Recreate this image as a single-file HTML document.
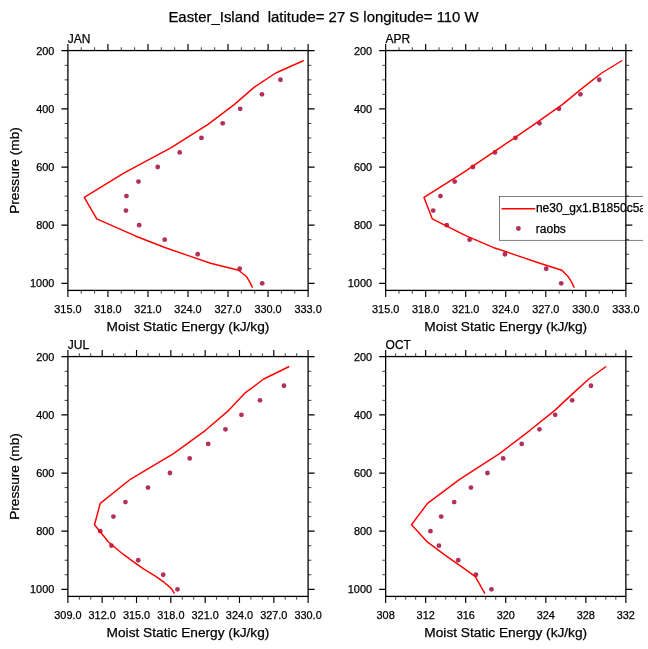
<!DOCTYPE html>
<html lang="en"><head><meta charset="utf-8"><title>Easter_Island Moist Static Energy</title>
<style>html,body{margin:0;padding:0;background:#fff;overflow:hidden}svg{display:block;will-change:transform}text{font-family:'Liberation Sans', sans-serif;fill:#000;stroke:#000;stroke-width:0.25px}.tk{font-size:10.9px}.ax{font-size:13.7px}.pl{font-size:12px}.lg{font-size:12px}.ti{font-size:14.9px}</style></head><body>
<svg width="648" height="649" viewBox="0 0 648 649">
<rect width="648" height="649" fill="#fff"/>
<defs><clipPath id="vp"><rect x="0" y="0" width="643" height="649"/></clipPath></defs>
<text class="ti" x="323.5" y="22.2" text-anchor="middle" xml:space="preserve" style="white-space:pre">Easter_Island  latitude= 27 S longitude= 110 W</text>
<g>
<circle cx="280.45" cy="79.75" r="2.4" fill="#b03060"/>
<circle cx="261.95" cy="94.29" r="2.4" fill="#b03060"/>
<circle cx="240.2" cy="108.83" r="2.4" fill="#b03060"/>
<circle cx="222.7" cy="123.37" r="2.4" fill="#b03060"/>
<circle cx="201.45" cy="137.91" r="2.4" fill="#b03060"/>
<circle cx="179.7" cy="152.45" r="2.4" fill="#b03060"/>
<circle cx="157.7" cy="166.99" r="2.4" fill="#b03060"/>
<circle cx="138.45" cy="181.53" r="2.4" fill="#b03060"/>
<circle cx="126.45" cy="196.07" r="2.4" fill="#b03060"/>
<circle cx="125.95" cy="210.61" r="2.4" fill="#b03060"/>
<circle cx="139.2" cy="225.15" r="2.4" fill="#b03060"/>
<circle cx="164.7" cy="239.69" r="2.4" fill="#b03060"/>
<circle cx="197.7" cy="254.23" r="2.4" fill="#b03060"/>
<circle cx="239.7" cy="268.77" r="2.4" fill="#b03060"/>
<circle cx="262.2" cy="283.31" r="2.4" fill="#b03060"/>
<polyline points="303.25,60.75 275.75,73 254,87.4 234.5,104.35 208,124.3 171.25,147.7 123.75,173.05 84.25,197.4 96.75,218.8 135.3,235.95 164.8,247.45 188.3,255.6 210.5,263.2 238.6,270.3 246.4,276.45 249.8,282.1 252.3,287.1" fill="none" stroke="#ff0000" stroke-width="1.45" stroke-linejoin="round" stroke-linecap="round"/>
<path d="M81.24 50.57V47.27 M81.24 290.4V293.7 M94.59 50.57V47.27 M94.59 290.4V293.7 M121.28 50.57V47.27 M121.28 290.4V293.7 M134.62 50.57V47.27 M134.62 290.4V293.7 M161.31 50.57V47.27 M161.31 290.4V293.7 M174.66 50.57V47.27 M174.66 290.4V293.7 M201.34 50.57V47.27 M201.34 290.4V293.7 M214.69 50.57V47.27 M214.69 290.4V293.7 M241.38 50.57V47.27 M241.38 290.4V293.7 M254.72 50.57V47.27 M254.72 290.4V293.7 M281.41 50.57V47.27 M281.41 290.4V293.7 M294.76 50.57V47.27 M294.76 290.4V293.7 M67.9 65.33H64.6 M308.1 65.33H311.4 M67.9 79.86H64.6 M308.1 79.86H311.4 M67.9 94.39H64.6 M308.1 94.39H311.4 M67.9 123.45H64.6 M308.1 123.45H311.4 M67.9 137.99H64.6 M308.1 137.99H311.4 M67.9 152.52H64.6 M308.1 152.52H311.4 M67.9 181.58H64.6 M308.1 181.58H311.4 M67.9 196.11H64.6 M308.1 196.11H311.4 M67.9 210.64H64.6 M308.1 210.64H311.4 M67.9 239.7H64.6 M308.1 239.7H311.4 M67.9 254.23H64.6 M308.1 254.23H311.4 M67.9 268.76H64.6 M308.1 268.76H311.4" stroke="#000" stroke-width="0.75" fill="none"/>
<path d="M67.9 50.57V44.07 M67.9 290.4V296.9 M107.93 50.57V44.07 M107.93 290.4V296.9 M147.97 50.57V44.07 M147.97 290.4V296.9 M188 50.57V44.07 M188 290.4V296.9 M228.03 50.57V44.07 M228.03 290.4V296.9 M268.07 50.57V44.07 M268.07 290.4V296.9 M308.1 50.57V44.07 M308.1 290.4V296.9 M67.9 50.57H61.4 M308.1 50.57H314.6 M67.9 108.92H61.4 M308.1 108.92H314.6 M67.9 167.05H61.4 M308.1 167.05H314.6 M67.9 225.17H61.4 M308.1 225.17H314.6 M67.9 283.3H61.4 M308.1 283.3H314.6" stroke="#000" stroke-width="1.15" fill="none"/>
<rect x="67.9" y="50.57" width="240.2" height="239.83" fill="none" stroke="#000" stroke-width="1.3"/>
<text class="pl" x="67.8" y="43.07">JAN</text>
<text class="tk" x="67.9" y="312.8" text-anchor="middle">315.0</text>
<text class="tk" x="107.93" y="312.8" text-anchor="middle">318.0</text>
<text class="tk" x="147.97" y="312.8" text-anchor="middle">321.0</text>
<text class="tk" x="188" y="312.8" text-anchor="middle">324.0</text>
<text class="tk" x="228.03" y="312.8" text-anchor="middle">327.0</text>
<text class="tk" x="268.07" y="312.8" text-anchor="middle">330.0</text>
<text class="tk" x="308.1" y="312.8" text-anchor="middle">333.0</text>
<text class="tk" x="54.3" y="54.5" text-anchor="end">200</text>
<text class="tk" x="54.3" y="112.62" text-anchor="end">400</text>
<text class="tk" x="54.3" y="170.75" text-anchor="end">600</text>
<text class="tk" x="54.3" y="228.87" text-anchor="end">800</text>
<text class="tk" x="54.3" y="287" text-anchor="end">1000</text>
<text class="ax" x="188" y="331.2" text-anchor="middle">Moist Static Energy (kJ/kg)</text>
<text class="ax" transform="translate(19.4 170.49) rotate(-90)" text-anchor="middle">Pressure (mb)</text>
</g>
<g>
<circle cx="599.2" cy="79.75" r="2.4" fill="#b03060"/>
<circle cx="580.45" cy="94.29" r="2.4" fill="#b03060"/>
<circle cx="558.95" cy="108.83" r="2.4" fill="#b03060"/>
<circle cx="539.45" cy="123.37" r="2.4" fill="#b03060"/>
<circle cx="515.45" cy="137.91" r="2.4" fill="#b03060"/>
<circle cx="494.95" cy="152.45" r="2.4" fill="#b03060"/>
<circle cx="472.95" cy="166.99" r="2.4" fill="#b03060"/>
<circle cx="454.7" cy="181.53" r="2.4" fill="#b03060"/>
<circle cx="440.45" cy="196.07" r="2.4" fill="#b03060"/>
<circle cx="433.2" cy="210.61" r="2.4" fill="#b03060"/>
<circle cx="446.7" cy="225.15" r="2.4" fill="#b03060"/>
<circle cx="469.6" cy="239.69" r="2.4" fill="#b03060"/>
<circle cx="504.95" cy="254.23" r="2.4" fill="#b03060"/>
<circle cx="546.2" cy="268.77" r="2.4" fill="#b03060"/>
<circle cx="561.2" cy="283.31" r="2.4" fill="#b03060"/>
<polyline points="621.75,60.75 601.75,73 583.3,87.4 562.6,104.35 534.2,124.3 500.2,147.7 462.5,173.05 424,197.4 432.25,218.8 466.2,235.95 493.2,247.45 517.4,255.6 539.8,263.2 561.9,270.3 568,276.45 571.6,282.1 574,287.1" fill="none" stroke="#ff0000" stroke-width="1.45" stroke-linejoin="round" stroke-linecap="round"/>
<g clip-path="url(#vp)">
<rect x="499.4" y="196.4" width="160" height="43.9" fill="none" stroke="#4a4a4a" stroke-width="0.7"/>
<line x1="501.5" y1="208.8" x2="535.3" y2="208.8" stroke="#ff0000" stroke-width="1.45"/>
<circle cx="518.4" cy="228.5" r="2.4" fill="#b03060"/>
<text class="lg" x="535.9" y="212.3">ne30_gx1.B1850c5a</text>
<text class="lg" x="535.8" y="233.1">raobs</text>
</g>
<path d="M398.99 50.57V47.27 M398.99 290.4V293.7 M412.34 50.57V47.27 M412.34 290.4V293.7 M439.03 50.57V47.27 M439.03 290.4V293.7 M452.37 50.57V47.27 M452.37 290.4V293.7 M479.06 50.57V47.27 M479.06 290.4V293.7 M492.41 50.57V47.27 M492.41 290.4V293.7 M519.09 50.57V47.27 M519.09 290.4V293.7 M532.44 50.57V47.27 M532.44 290.4V293.7 M559.13 50.57V47.27 M559.13 290.4V293.7 M572.47 50.57V47.27 M572.47 290.4V293.7 M599.16 50.57V47.27 M599.16 290.4V293.7 M612.51 50.57V47.27 M612.51 290.4V293.7 M385.65 65.33H382.35 M625.85 65.33H629.15 M385.65 79.86H382.35 M625.85 79.86H629.15 M385.65 94.39H382.35 M625.85 94.39H629.15 M385.65 123.45H382.35 M625.85 123.45H629.15 M385.65 137.99H382.35 M625.85 137.99H629.15 M385.65 152.52H382.35 M625.85 152.52H629.15 M385.65 181.58H382.35 M625.85 181.58H629.15 M385.65 196.11H382.35 M625.85 196.11H629.15 M385.65 210.64H382.35 M625.85 210.64H629.15 M385.65 239.7H382.35 M625.85 239.7H629.15 M385.65 254.23H382.35 M625.85 254.23H629.15 M385.65 268.76H382.35 M625.85 268.76H629.15" stroke="#000" stroke-width="0.75" fill="none"/>
<path d="M385.65 50.57V44.07 M385.65 290.4V296.9 M425.68 50.57V44.07 M425.68 290.4V296.9 M465.72 50.57V44.07 M465.72 290.4V296.9 M505.75 50.57V44.07 M505.75 290.4V296.9 M545.78 50.57V44.07 M545.78 290.4V296.9 M585.82 50.57V44.07 M585.82 290.4V296.9 M625.85 50.57V44.07 M625.85 290.4V296.9 M385.65 50.57H379.15 M625.85 50.57H632.35 M385.65 108.92H379.15 M625.85 108.92H632.35 M385.65 167.05H379.15 M625.85 167.05H632.35 M385.65 225.17H379.15 M625.85 225.17H632.35 M385.65 283.3H379.15 M625.85 283.3H632.35" stroke="#000" stroke-width="1.15" fill="none"/>
<rect x="385.65" y="50.57" width="240.2" height="239.83" fill="none" stroke="#000" stroke-width="1.3"/>
<text class="pl" x="385.55" y="43.07">APR</text>
<text class="tk" x="385.65" y="312.8" text-anchor="middle">315.0</text>
<text class="tk" x="425.68" y="312.8" text-anchor="middle">318.0</text>
<text class="tk" x="465.72" y="312.8" text-anchor="middle">321.0</text>
<text class="tk" x="505.75" y="312.8" text-anchor="middle">324.0</text>
<text class="tk" x="545.78" y="312.8" text-anchor="middle">327.0</text>
<text class="tk" x="585.82" y="312.8" text-anchor="middle">330.0</text>
<text class="tk" x="625.85" y="312.8" text-anchor="middle">333.0</text>
<text class="tk" x="372.05" y="54.5" text-anchor="end">200</text>
<text class="tk" x="372.05" y="112.62" text-anchor="end">400</text>
<text class="tk" x="372.05" y="170.75" text-anchor="end">600</text>
<text class="tk" x="372.05" y="228.87" text-anchor="end">800</text>
<text class="tk" x="372.05" y="287" text-anchor="end">1000</text>
<text class="ax" x="505.75" y="331.2" text-anchor="middle">Moist Static Energy (kJ/kg)</text>
</g>
<g>
<circle cx="283.95" cy="385.75" r="2.4" fill="#b03060"/>
<circle cx="259.95" cy="400.29" r="2.4" fill="#b03060"/>
<circle cx="241.45" cy="414.83" r="2.4" fill="#b03060"/>
<circle cx="225.45" cy="429.37" r="2.4" fill="#b03060"/>
<circle cx="208.2" cy="443.91" r="2.4" fill="#b03060"/>
<circle cx="189.7" cy="458.45" r="2.4" fill="#b03060"/>
<circle cx="169.95" cy="472.99" r="2.4" fill="#b03060"/>
<circle cx="147.95" cy="487.53" r="2.4" fill="#b03060"/>
<circle cx="125.45" cy="502.07" r="2.4" fill="#b03060"/>
<circle cx="113.45" cy="516.61" r="2.4" fill="#b03060"/>
<circle cx="100.2" cy="531.15" r="2.4" fill="#b03060"/>
<circle cx="111.45" cy="545.69" r="2.4" fill="#b03060"/>
<circle cx="138.2" cy="560.23" r="2.4" fill="#b03060"/>
<circle cx="163.2" cy="574.77" r="2.4" fill="#b03060"/>
<circle cx="177.45" cy="589.31" r="2.4" fill="#b03060"/>
<polyline points="288.75,366.75 263.75,379 244.5,393.4 228.75,410.35 205.5,430.3 173.5,453.7 130.75,479.05 100.25,503.4 94.5,524.8 108.5,541.95 122.1,553.45 133.2,561.6 143.9,569.2 155.8,576.3 164.2,582.45 171,588.1 174.3,593.1" fill="none" stroke="#ff0000" stroke-width="1.45" stroke-linejoin="round" stroke-linecap="round"/>
<path d="M79.34 356.57V353.27 M79.34 596.4V599.7 M90.78 356.57V353.27 M90.78 596.4V599.7 M113.65 356.57V353.27 M113.65 596.4V599.7 M125.09 356.57V353.27 M125.09 596.4V599.7 M147.97 356.57V353.27 M147.97 596.4V599.7 M159.4 356.57V353.27 M159.4 596.4V599.7 M182.28 356.57V353.27 M182.28 596.4V599.7 M193.72 356.57V353.27 M193.72 596.4V599.7 M216.6 356.57V353.27 M216.6 596.4V599.7 M228.03 356.57V353.27 M228.03 596.4V599.7 M250.91 356.57V353.27 M250.91 596.4V599.7 M262.35 356.57V353.27 M262.35 596.4V599.7 M285.22 356.57V353.27 M285.22 596.4V599.7 M296.66 356.57V353.27 M296.66 596.4V599.7 M67.9 371.33H64.6 M308.1 371.33H311.4 M67.9 385.86H64.6 M308.1 385.86H311.4 M67.9 400.39H64.6 M308.1 400.39H311.4 M67.9 429.46H64.6 M308.1 429.46H311.4 M67.9 443.99H64.6 M308.1 443.99H311.4 M67.9 458.52H64.6 M308.1 458.52H311.4 M67.9 487.58H64.6 M308.1 487.58H311.4 M67.9 502.11H64.6 M308.1 502.11H311.4 M67.9 516.64H64.6 M308.1 516.64H311.4 M67.9 545.7H64.6 M308.1 545.7H311.4 M67.9 560.23H64.6 M308.1 560.23H311.4 M67.9 574.76H64.6 M308.1 574.76H311.4" stroke="#000" stroke-width="0.75" fill="none"/>
<path d="M67.9 356.57V350.07 M67.9 596.4V602.9 M102.21 356.57V350.07 M102.21 596.4V602.9 M136.53 356.57V350.07 M136.53 596.4V602.9 M170.84 356.57V350.07 M170.84 596.4V602.9 M205.16 356.57V350.07 M205.16 596.4V602.9 M239.47 356.57V350.07 M239.47 596.4V602.9 M273.79 356.57V350.07 M273.79 596.4V602.9 M308.1 356.57V350.07 M308.1 596.4V602.9 M67.9 356.57H61.4 M308.1 356.57H314.6 M67.9 414.92H61.4 M308.1 414.92H314.6 M67.9 473.05H61.4 M308.1 473.05H314.6 M67.9 531.17H61.4 M308.1 531.17H314.6 M67.9 589.3H61.4 M308.1 589.3H314.6" stroke="#000" stroke-width="1.15" fill="none"/>
<rect x="67.9" y="356.57" width="240.2" height="239.83" fill="none" stroke="#000" stroke-width="1.3"/>
<text class="pl" x="67.8" y="349.07">JUL</text>
<text class="tk" x="67.9" y="618.8" text-anchor="middle">309.0</text>
<text class="tk" x="102.21" y="618.8" text-anchor="middle">312.0</text>
<text class="tk" x="136.53" y="618.8" text-anchor="middle">315.0</text>
<text class="tk" x="170.84" y="618.8" text-anchor="middle">318.0</text>
<text class="tk" x="205.16" y="618.8" text-anchor="middle">321.0</text>
<text class="tk" x="239.47" y="618.8" text-anchor="middle">324.0</text>
<text class="tk" x="273.79" y="618.8" text-anchor="middle">327.0</text>
<text class="tk" x="308.1" y="618.8" text-anchor="middle">330.0</text>
<text class="tk" x="54.3" y="360.5" text-anchor="end">200</text>
<text class="tk" x="54.3" y="418.62" text-anchor="end">400</text>
<text class="tk" x="54.3" y="476.75" text-anchor="end">600</text>
<text class="tk" x="54.3" y="534.87" text-anchor="end">800</text>
<text class="tk" x="54.3" y="593" text-anchor="end">1000</text>
<text class="ax" x="188" y="637.2" text-anchor="middle">Moist Static Energy (kJ/kg)</text>
<text class="ax" transform="translate(19.4 476.49) rotate(-90)" text-anchor="middle">Pressure (mb)</text>
</g>
<g>
<circle cx="590.95" cy="385.75" r="2.4" fill="#b03060"/>
<circle cx="572.2" cy="400.29" r="2.4" fill="#b03060"/>
<circle cx="555.2" cy="414.83" r="2.4" fill="#b03060"/>
<circle cx="539.45" cy="429.37" r="2.4" fill="#b03060"/>
<circle cx="521.7" cy="443.91" r="2.4" fill="#b03060"/>
<circle cx="503.2" cy="458.45" r="2.4" fill="#b03060"/>
<circle cx="487.45" cy="472.99" r="2.4" fill="#b03060"/>
<circle cx="470.95" cy="487.53" r="2.4" fill="#b03060"/>
<circle cx="454.2" cy="502.07" r="2.4" fill="#b03060"/>
<circle cx="441.2" cy="516.61" r="2.4" fill="#b03060"/>
<circle cx="430.45" cy="531.15" r="2.4" fill="#b03060"/>
<circle cx="438.95" cy="545.69" r="2.4" fill="#b03060"/>
<circle cx="458.2" cy="560.23" r="2.4" fill="#b03060"/>
<circle cx="475.95" cy="574.77" r="2.4" fill="#b03060"/>
<circle cx="491.45" cy="589.31" r="2.4" fill="#b03060"/>
<polyline points="605.75,366.75 588.75,379 573,393.4 554.8,410.35 530,430.3 499.5,453.7 460,479.05 427.5,503.4 411.5,524.8 427.3,541.95 442.7,553.45 454.2,561.6 465,569.2 475.1,576.3 478.6,582.45 481.8,588.1 484.6,593.1" fill="none" stroke="#ff0000" stroke-width="1.45" stroke-linejoin="round" stroke-linecap="round"/>
<path d="M395.66 356.57V353.27 M395.66 596.4V599.7 M405.67 356.57V353.27 M405.67 596.4V599.7 M415.67 356.57V353.27 M415.67 596.4V599.7 M435.69 356.57V353.27 M435.69 596.4V599.7 M445.7 356.57V353.27 M445.7 596.4V599.7 M455.71 356.57V353.27 M455.71 596.4V599.7 M475.72 356.57V353.27 M475.72 596.4V599.7 M485.73 356.57V353.27 M485.73 596.4V599.7 M495.74 356.57V353.27 M495.74 596.4V599.7 M515.76 356.57V353.27 M515.76 596.4V599.7 M525.77 356.57V353.27 M525.77 596.4V599.7 M535.77 356.57V353.27 M535.77 596.4V599.7 M555.79 356.57V353.27 M555.79 596.4V599.7 M565.8 356.57V353.27 M565.8 596.4V599.7 M575.81 356.57V353.27 M575.81 596.4V599.7 M595.82 356.57V353.27 M595.82 596.4V599.7 M605.83 356.57V353.27 M605.83 596.4V599.7 M615.84 356.57V353.27 M615.84 596.4V599.7 M385.65 371.33H382.35 M625.85 371.33H629.15 M385.65 385.86H382.35 M625.85 385.86H629.15 M385.65 400.39H382.35 M625.85 400.39H629.15 M385.65 429.46H382.35 M625.85 429.46H629.15 M385.65 443.99H382.35 M625.85 443.99H629.15 M385.65 458.52H382.35 M625.85 458.52H629.15 M385.65 487.58H382.35 M625.85 487.58H629.15 M385.65 502.11H382.35 M625.85 502.11H629.15 M385.65 516.64H382.35 M625.85 516.64H629.15 M385.65 545.7H382.35 M625.85 545.7H629.15 M385.65 560.23H382.35 M625.85 560.23H629.15 M385.65 574.76H382.35 M625.85 574.76H629.15" stroke="#000" stroke-width="0.75" fill="none"/>
<path d="M385.65 356.57V350.07 M385.65 596.4V602.9 M425.68 356.57V350.07 M425.68 596.4V602.9 M465.72 356.57V350.07 M465.72 596.4V602.9 M505.75 356.57V350.07 M505.75 596.4V602.9 M545.78 356.57V350.07 M545.78 596.4V602.9 M585.82 356.57V350.07 M585.82 596.4V602.9 M625.85 356.57V350.07 M625.85 596.4V602.9 M385.65 356.57H379.15 M625.85 356.57H632.35 M385.65 414.92H379.15 M625.85 414.92H632.35 M385.65 473.05H379.15 M625.85 473.05H632.35 M385.65 531.17H379.15 M625.85 531.17H632.35 M385.65 589.3H379.15 M625.85 589.3H632.35" stroke="#000" stroke-width="1.15" fill="none"/>
<rect x="385.65" y="356.57" width="240.2" height="239.83" fill="none" stroke="#000" stroke-width="1.3"/>
<text class="pl" x="385.55" y="349.07">OCT</text>
<text class="tk" x="385.65" y="618.8" text-anchor="middle">308</text>
<text class="tk" x="425.68" y="618.8" text-anchor="middle">312</text>
<text class="tk" x="465.72" y="618.8" text-anchor="middle">316</text>
<text class="tk" x="505.75" y="618.8" text-anchor="middle">320</text>
<text class="tk" x="545.78" y="618.8" text-anchor="middle">324</text>
<text class="tk" x="585.82" y="618.8" text-anchor="middle">328</text>
<text class="tk" x="625.85" y="618.8" text-anchor="middle">332</text>
<text class="tk" x="372.05" y="360.5" text-anchor="end">200</text>
<text class="tk" x="372.05" y="418.62" text-anchor="end">400</text>
<text class="tk" x="372.05" y="476.75" text-anchor="end">600</text>
<text class="tk" x="372.05" y="534.87" text-anchor="end">800</text>
<text class="tk" x="372.05" y="593" text-anchor="end">1000</text>
<text class="ax" x="505.75" y="637.2" text-anchor="middle">Moist Static Energy (kJ/kg)</text>
</g>
</svg></body></html>
